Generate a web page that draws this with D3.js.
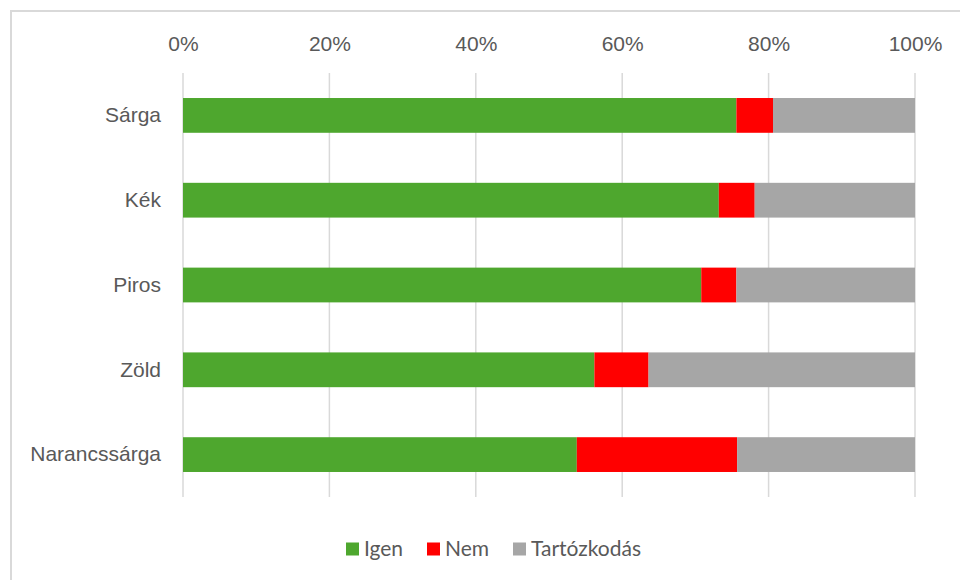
<!DOCTYPE html>
<html>
<head>
<meta charset="utf-8">
<script src="https://cdn.jsdelivr.net/npm/d3@7"></script>
<style>
  body { margin: 0; background: #fff; }
  svg { display: block; font-family: Lato, "Open Sans", sans-serif; }
</style>
</head>
<body>
<svg width="960" height="580"></svg>
<script>
const categories = ['Sárga', 'Kék', 'Piros', 'Zöld', 'Narancssárga'];
const igen = [75.6, 73.2, 70.8, 56.2, 53.8];
const nem = [5.0, 4.9, 4.8, 7.4, 21.9];
const tartozkodas = [19.4, 21.9, 24.4, 36.4, 24.3];
const seriesNames = ['Igen', 'Nem', 'Tartózkodás'];
const tickValues = [0, 20, 40, 60, 80, 100];

const colors = ['#4ea72e', '#ff0000', '#a6a6a6'];
const textColor = '#595959';
const fontSize = '21px';

const svg = d3.select('svg');

// outer chart frame (runs off the right and bottom edge)
svg.append('rect')
    .attr('x', 11)
    .attr('y', 11)
    .attr('width', 1000)
    .attr('height', 1000)
    .attr('fill', 'none')
    .attr('stroke', '#d9d9d9')
    .attr('stroke-width', 2);

const margin = { top: 73, left: 183, right: 45, bottom: 83 };
const width = 960 - margin.left - margin.right;
const height = 580 - margin.top - margin.bottom;

const chart = svg.append('g')
    .attr('transform', `translate(${margin.left},${margin.top})`);

const xScale = d3.scaleLinear().domain([0, 100]).range([0, width]);
const yScale = d3.scaleBand().domain(categories).range([0, height]).paddingInner(0.59).paddingOuter(0.295);

// table for stacking
const rows = categories.map(function(c, i) {
    return { cat: c, Igen: igen[i], Nem: nem[i], 'Tartózkodás': tartozkodas[i] };
});
const stacked = d3.stack().keys(seriesNames)(rows);

// gridlines
chart.append('g')
    .selectAll('line')
    .data(tickValues)
    .enter()
    .append('line')
    .attr('x1', d => xScale(d))
    .attr('x2', d => xScale(d))
    .attr('y1', 0)
    .attr('y2', height)
    .attr('stroke', '#d9d9d9')
    .attr('stroke-width', 1.5);

// top axis labels
const xAxis = chart.append('g')
    .call(d3.axisTop(xScale).tickValues(tickValues).tickFormat(d => d + '%').tickSize(0).tickPadding(22));
xAxis.select('.domain').remove();
xAxis.selectAll('text')
    .attr('fill', textColor)
    .style('font-size', fontSize);

// left axis labels
const yAxis = chart.append('g')
    .call(d3.axisLeft(yScale).tickSize(0).tickPadding(22));
yAxis.select('.domain').remove();
yAxis.selectAll('text')
    .attr('fill', textColor)
    .style('font-size', fontSize);

// bars
chart.append('g')
    .selectAll('g')
    .data(stacked)
    .enter()
    .append('g')
    .attr('fill', (d, i) => colors[i])
    .selectAll('rect')
    .data(d => d)
    .enter()
    .append('rect')
    .attr('x', d => xScale(d[0]))
    .attr('width', d => xScale(d[1]) - xScale(d[0]))
    .attr('y', d => yScale(d.data.cat))
    .attr('height', yScale.bandwidth());

// legend
const legendX = [346, 427, 513];
const legend = svg.append('g')
    .selectAll('g')
    .data(seriesNames)
    .enter()
    .append('g')
    .attr('transform', (d, i) => `translate(${legendX[i]},549)`);

legend.append('rect')
    .attr('x', 0)
    .attr('y', -6.5)
    .attr('width', 13)
    .attr('height', 13)
    .attr('fill', (d, i) => colors[i]);

legend.append('text')
    .attr('x', 18)
    .attr('y', 0)
    .attr('dy', '0.35em')
    .attr('fill', textColor)
    .style('font-size', fontSize)
    .text(d => d);
</script>
</body>
</html>
